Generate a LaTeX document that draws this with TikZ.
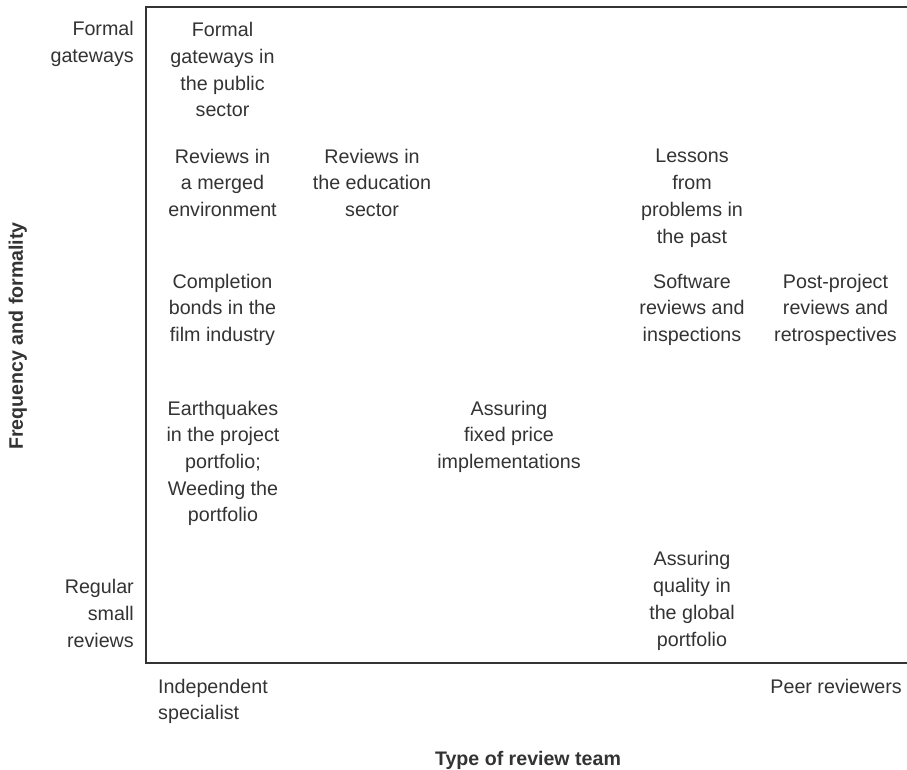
\documentclass[tikz,border=0pt]{standalone}
\usepackage{fontspec}
\setmainfont{Liberation Sans}
\definecolor{ink}{HTML}{333333}
\begin{document}
\begin{tikzpicture}[x=1pt,y=-1pt,
  every node/.style={inner sep=0pt,text=ink,font=\fontsize{19.7}{26.7}\selectfont},
  % multi-line nodes are placed by the baseline of their last line
  cell/.style={align=center,anchor=base},
  ylab/.style={align=right,anchor=base east},
  axistitle/.style={font=\fontsize{19.6}{26.7}\selectfont\bfseries,anchor=base}]
\useasboundingbox (0,0) rectangle (907,770);
% frame: left edge, top and bottom rules
\draw[ink,line width=1.5pt] (907,7) -- (146,7) -- (146,663) -- (907,663);

% row labels
\node[ylab] (formal) at (134,62.7) {Formal\\gateways};
\node[ylab] (regular) at (134,647) {Regular\\small\\reviews};

% column labels
\node[align=left,anchor=base west] (indep) at (158,719.7) {Independent\\specialist};
\node[anchor=base east] (peer) at (902,693) {Peer reviewers};

% axis titles
\node[axistitle] (xtitle) at (528,765) {Type of review team};
\node[axistitle,rotate=90] (ytitle) at (23,336) {Frequency and formality};

% cases
\node[cell] (gate) at (222.5,117) {Formal\\gateways in\\the public\\sector};
\node[cell] (merged) at (222.5,216.4) {Reviews in\\a merged\\environment};
\node[cell] (edu) at (372,216.4) {Reviews in\\the education\\sector};
\node[cell] (lessons) at (692,243) {Lessons\\from\\problems in\\the past};
\node[cell] (film) at (222.5,341.4) {Completion\\bonds in the\\film industry};
\node[cell] (soft) at (692,341.4) {Software\\reviews and\\inspections};
\node[cell] (post) at (835.5,341.4) {Post-project\\reviews and\\retrospectives};
\node[cell] (quake) at (223,521.8) {Earthquakes\\in the project\\portfolio;\\Weeding the\\portfolio};
\node[cell] (fixed) at (509,468.4) {Assuring\\fixed price\\implementations};
\node[cell] (global) at (692,646) {Assuring\\quality in\\the global\\portfolio};
\end{tikzpicture}
\end{document}
